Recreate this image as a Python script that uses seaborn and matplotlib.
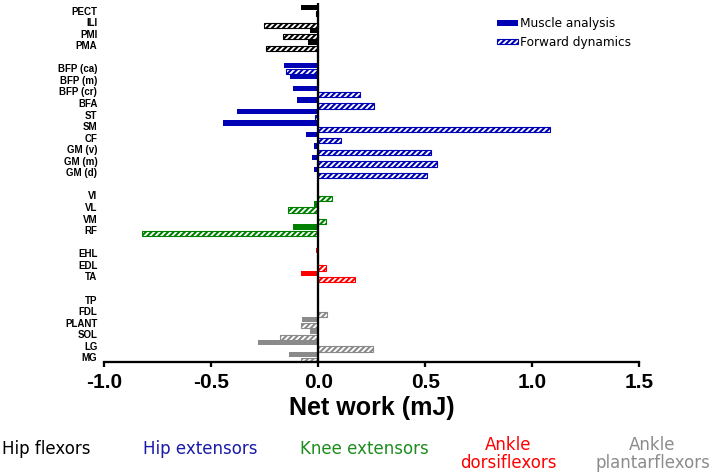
import numpy as np
import pandas as pd
import matplotlib
matplotlib.use("Agg")
import matplotlib.pyplot as plt
from matplotlib.patches import Patch
import seaborn as sns

# ---------------- data ----------------
muscles = ['PECT', 'ILI', 'PMI', 'PMA',
           'BFP (ca)', 'BFP (m)', 'BFP (cr)', 'BFA', 'ST', 'SM', 'CF', 'GM (v)', 'GM (m)', 'GM (d)',
           'VI', 'VL', 'VM', 'RF',
           'EHL', 'EDL', 'TA',
           'TP', 'FDL', 'PLANT', 'SOL', 'LG', 'MG']
group_names = ['Hip flexors', 'Hip extensors', 'Knee extensors',
               'Ankle dorsiflexors', 'Ankle plantarflexors']
group_sizes = [4, 10, 4, 3, 6]
group_colors = ['#000000', '#0000b4', '#008000', '#ff0000', '#8a8a8a']
group_text_colors = ['#000000', '#1a1aa8', '#1e8c1e', '#ff0000', '#8c8c8c']
group_labels = ['Hip flexors', 'Hip extensors', 'Knee extensors',
                'Ankle\ndorsiflexors', 'Ankle\nplantarflexors']

muscle_analysis = [-0.083, -0.005, -0.039, -0.049,
                   -0.162, -0.133, -0.118, -0.101, -0.380, -0.443, -0.058, -0.020, -0.028, -0.022,
                   0.0, -0.020, -0.004, -0.118,
                   -0.010, -0.004, -0.082,
                   0.0, 0.0, -0.075, -0.037, -0.284, -0.136]
forward_dynamics = [-0.010, -0.254, -0.165, -0.244,
                    -0.153, -0.003, 0.194, 0.258, -0.015, 1.082, 0.108, 0.525, 0.557, 0.507,
                    0.062, -0.142, 0.034, -0.825,
                    -0.006, 0.036, 0.170,
                    0.0, 0.041, -0.083, -0.178, 0.254, -0.082]
methods = ['Muscle analysis', 'Forward dynamics']
xticks = [-1.0, -0.5, 0.0, 0.5, 1.0, 1.5]

# ---------------- build table ----------------
groups = []
for g, n in zip(group_names, group_sizes):
    groups += [g] * n
df = pd.DataFrame({
    'muscle': muscles * 2,
    'group': groups * 2,
    'method': [methods[0]] * len(muscles) + [methods[1]] * len(muscles),
    'value': muscle_analysis + forward_dynamics,
})
# category order with blank spacer rows between groups
order = []
start = 0
for k, n in enumerate(group_sizes):
    order += muscles[start:start + n]
    start += n
    if k < len(group_sizes) - 1:
        order.append(' ' * (k + 1))
color_of = dict(zip(group_names, group_colors))
muscle_group = dict(zip(muscles, groups))

# ---------------- plot ----------------
sns.set_style('white')
plt.rcParams['hatch.linewidth'] = 1.5
for key in ['text.color', 'axes.labelcolor', 'xtick.color', 'ytick.color']:
    plt.rcParams[key] = 'black'
W, H = 714, 473
fig = plt.figure(figsize=(W / 100, H / 100), dpi=100)
ax = fig.add_axes([104.3 / W, (H - 362.3) / H, (639.3 - 104.3) / W, (362.3 - 3) / H])

sns.barplot(data=df, y='muscle', x='value', hue='method', hue_order=methods,
            order=order, orient='h', width=1.07, gap=0.14, errorbar=None,
            legend=False, ax=ax)

hatch = '//////'
for h, cont in enumerate(ax.containers):
    for bar in cont:
        yc = bar.get_y() + bar.get_height() / 2
        idx = int(round(yc))
        name = order[idx]
        col = color_of[muscle_group[name]]
        if h == 0:
            bar.set_facecolor(col)
            bar.set_edgecolor(col)
            bar.set_linewidth(0)
        else:
            bar.set_facecolor('white')
            bar.set_edgecolor(col)
            bar.set_hatch(hatch)
            bar.set_linewidth(0.8)

ax.axvline(0, color='black', lw=1.65, zorder=5)
ax.set_xlim(-1.0, 1.5)
ax.set_ylim(30.43, -0.65)
ax.set_xticks(xticks)
ax.set_xticklabels([f'{t:.1f}' for t in xticks], fontfamily='Liberation Sans',
                   fontweight='bold', fontsize=15, color='black')
ax.set_yticks(range(len(order)))
ax.set_yticklabels(order, fontfamily='Liberation Sans', fontweight='bold', fontsize=7,
                   color='black')
ax.tick_params(axis='y', length=0, pad=5)
ax.tick_params(axis='x', direction='out', length=3.6, width=1.65, pad=4,
               color='black', bottom=True)
for s in ['top', 'right', 'left']:
    ax.spines[s].set_visible(False)
ax.spines['bottom'].set_linewidth(1.65)
ax.spines['bottom'].set_color('black')
ax.set_ylabel('')
ax.set_xlabel('Net work (mJ)', fontfamily='Liberation Sans', fontweight='bold',
              fontsize=18, labelpad=3, color='black')

# legend
blue = group_colors[1]
handles = [Patch(facecolor=blue, edgecolor=blue, linewidth=0),
           Patch(facecolor='white', edgecolor=blue, hatch=hatch, linewidth=0.8)]
fig.legend(handles, methods, loc='upper left', bbox_to_anchor=(496.7 / W, 1 - 17.5 / H),
           frameon=False, prop={'family': 'DejaVu Sans', 'size': 8.7},
           handlelength=1.74, handleheight=0.33, handletextpad=0.15,
           borderpad=0, borderaxespad=0, labelspacing=0.45)

# group labels along the bottom
text_x = [46.7, 200, 364.7, 508, 652.5]
text_y = [453.5, 454, 454, 468.3, 468.3]
for lab, c, x, y in zip(group_labels, group_text_colors, text_x, text_y):
    fig.text(x / W, 1 - y / H, lab, color=c, ha='center', va='baseline',
             fontsize=12, family='DejaVu Sans', multialignment='center', linespacing=1.05)

fig.savefig('out.png', dpi=100)
